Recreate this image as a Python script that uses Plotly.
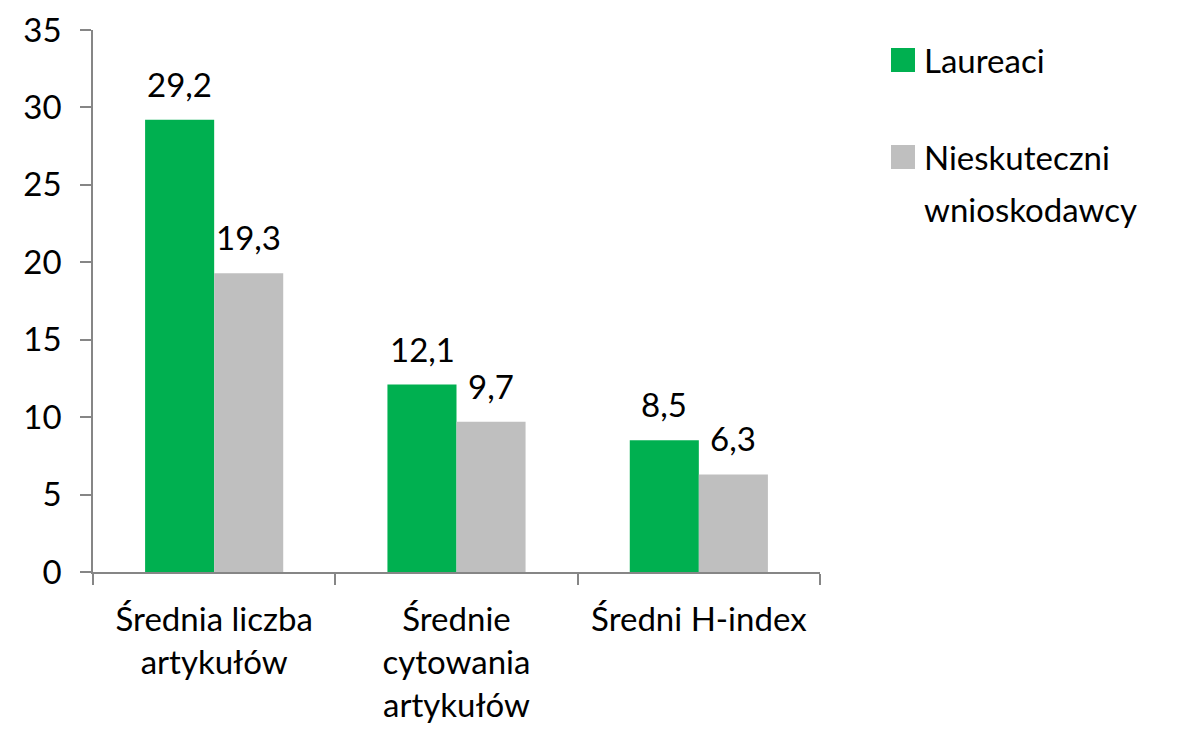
import plotly.graph_objects as go

categories = ["Średnia liczba<br>artykułów", "Średnie<br>cytowania<br>artykułów", "Średni H-index"]
laureaci = [29.2, 12.1, 8.5]
nieskuteczni = [19.3, 9.7, 6.3]
series_names = ["Laureaci", "Nieskuteczni<br>wnioskodawcy"]
colors = ["#00B050", "#BFBFBF"]
y_ticks = [0, 5, 10, 15, 20, 25, 30, 35]

FONT = "Lato"
FS = 33

W, H = 1184, 729
OFF = 8  # page body offset
L, R, T, B = 93 - OFF, W - (820 - OFF), 30 - OFF, H - (572 - OFF)

fig = go.Figure()
for name, vals, col in zip(series_names, [laureaci, nieskuteczni], colors):
    fig.add_trace(go.Bar(x=categories, y=vals, name=name, marker=dict(color=col, line=dict(width=0)),
                         showlegend=False))

def fmt(v):
    return f"{v:.1f}".replace(".", ",")

annotations = []
for vals, shift in [(laureaci, -34.5), (nieskuteczni, 34.5)]:
    for c, v in zip(categories, vals):
        annotations.append(dict(x=c, y=v, xref="x", yref="y", text=fmt(v), showarrow=False,
                                xshift=shift, yanchor="bottom", yshift=14,
                                font=dict(family=FONT, size=FS, color="black")))

# manual legend (pixel positions relative to the screenshot)
pw, ph = W - L - R, H - T - B
def px(xp):
    return (xp - OFF - L) / pw
def py(yp):
    return (H - B - (yp - OFF)) / ph

shapes = []
leg_centers = [60, 157]
for col, cy in zip(colors, leg_centers):
    shapes.append(dict(type="rect", xref="paper", yref="paper", x0=px(891), x1=px(915),
                       y0=py(cy + 12), y1=py(cy - 12), fillcolor=col, line=dict(width=0)))
legend_lines = [(series_names[0], 60)]
for i, line in enumerate(series_names[1].split("<br>")):
    legend_lines.append((line, 157 + 52 * i))
for txt, cy in legend_lines:
    annotations.append(dict(xref="paper", yref="paper", x=px(922), y=py(cy), xanchor="left", yanchor="middle",
                            text=txt, showarrow=False, align="left",
                            font=dict(family=FONT, size=FS, color="black")))

fig.update_layout(
    width=W, height=H,
    margin=dict(l=L, r=R, t=T, b=B, autoexpand=False),
    paper_bgcolor="white", plot_bgcolor="white",
    barmode="group", bargap=0.43, bargroupgap=0,
    font=dict(family=FONT, size=FS, color="black"),
    annotations=annotations, shapes=shapes,
    xaxis=dict(showline=True, linecolor="#868686", linewidth=1.5, ticks="outside", tickson="boundaries",
               ticklen=11, tickcolor="#868686", tickwidth=1.5, showgrid=False,
               ticklabelstandoff=18,
               tickfont=dict(family=FONT, size=FS, color="black")),
    yaxis=dict(range=[0, 35], tickvals=y_ticks, showline=True, linecolor="#868686", linewidth=1.5,
               ticks="outside", ticklen=11, tickcolor="#868686", tickwidth=1.5, showgrid=False,
               zeroline=False, ticklabelstandoff=12,
               tickfont=dict(family=FONT, size=FS, color="black")),
)

fig.write_html("out.html")
